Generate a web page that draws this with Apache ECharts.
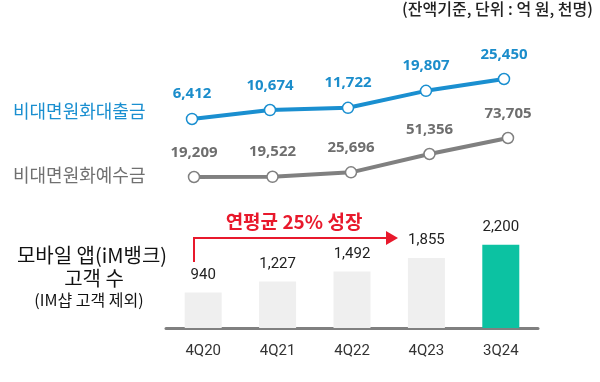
<!DOCTYPE html>
<html><head><meta charset="utf-8">
<script src="https://cdn.jsdelivr.net/npm/echarts@6/dist/echarts.min.js"></script>
<style>html,body{margin:0;padding:0;background:#fff}#c{width:600px;height:382px}</style>
</head><body><div id="c"></div>
<script>
const categories = ['4Q20','4Q21','4Q22','4Q23','3Q24'];
const loans = [6412, 10674, 11722, 19807, 25450];
const deposits = [19209, 19522, 25696, 51356, 73705];
const appUsers = [940, 1227, 1492, 1855, 2200];

const KR = '"Noto Sans CJK KR", "Noto Sans", sans-serif';
const chart = echarts.init(document.getElementById('c'), null, {renderer:'canvas'});
chart.setOption({
  animation:false,
  backgroundColor:'#fff',
  grid:[
    {left:192, right:96, top:60, height:80},
    {left:194, right:92, top:120, height:80},
    {left:166, right:62, top:200, bottom:54}
  ],
  xAxis:[
    {gridIndex:0, type:'category', data:categories, boundaryGap:false, show:false},
    {gridIndex:1, type:'category', data:categories, boundaryGap:false, show:false},
    {gridIndex:2, type:'category', data:categories, boundaryGap:true,
     axisLine:{lineStyle:{color:'#808080', width:3}}, axisTick:{show:false},
     axisLabel:{color:'#333', fontSize:15, margin:16, fontFamily:'Roboto, sans-serif'}}
  ],
  yAxis:[
    {gridIndex:0, type:'value', min:-3600, max:34500, show:false, splitLine:{show:false}},
    {gridIndex:1, type:'value', min:-12930, max:98850, show:false, splitLine:{show:false}},
    {gridIndex:2, type:'value', min:0, max:3386, show:false, splitLine:{show:false}}
  ],
  series:[
    {type:'line', xAxisIndex:0, yAxisIndex:0, data:loans, symbol:'circle', symbolSize:11,
     lineStyle:{color:'#1a8fd0', width:4}, itemStyle:{color:'#fff', borderColor:'#1a8fd0', borderWidth:1.5},
     label:{show:true, position:'top', distance:11, color:'#1b8dcb', fontSize:15, fontWeight:'bold',
       fontFamily:'"Open Sans", sans-serif', formatter:p=>p.value.toLocaleString('en-US')}, z:5},
    {type:'line', xAxisIndex:1, yAxisIndex:1, data:deposits, symbol:'circle', symbolSize:11,
     lineStyle:{color:'#808080', width:4}, itemStyle:{color:'#fff', borderColor:'#808080', borderWidth:1.5},
     label:{show:true, position:'top', distance:11, color:'#6e6e6e', fontSize:15, fontWeight:'bold',
       fontFamily:'"Open Sans", sans-serif', formatter:p=>p.value.toLocaleString('en-US')}, z:5},
    {type:'bar', xAxisIndex:2, yAxisIndex:2, barWidth:37,
     data:appUsers.map((v,i)=>({value:v, itemStyle:{color: i===appUsers.length-1 ? '#0cc2a2' : '#efefef'}})),
     label:{show:true, position:'top', distance:10, color:'#222', fontSize:15,
       fontFamily:'Roboto, sans-serif', formatter:p=>p.value.toLocaleString('en-US')}}
  ],
  graphic:[
    {type:'text', right:7, top:1, style:{text:'(잔액기준, 단위 : 억 원, 천명)', font:'500 16px '+KR, fill:'#222'}},
    {type:'text', left:13, top:102, style:{text:'비대면원화대출금', font:'18px '+KR, fill:'#1a8fd0'}},
    {type:'text', left:13, top:166, style:{text:'비대면원화예수금', font:'18px '+KR, fill:'#707070'}},
    {type:'text', x:92, y:255, style:{text:'모바일 앱(iM뱅크)', font:'20px '+KR, fill:'#111', align:'center', verticalAlign:'middle'}},
    {type:'text', x:94, y:278, style:{text:'고객 수', font:'20px '+KR, fill:'#111', align:'center', verticalAlign:'middle'}},
    {type:'text', x:89, y:300, style:{text:'(IM샵 고객 제외)', font:'16px '+KR, fill:'#111', align:'center', verticalAlign:'middle'}},
    {type:'polyline', shape:{points:[[194,262],[194,238],[388,238]]}, style:{stroke:'#e8192c', lineWidth:2, fill:null}},
    {type:'polygon', shape:{points:[[386,231],[398,238],[386,245]]}, style:{fill:'#e8192c'}},
    {type:'text', x:294, y:222, style:{text:'연평균 25% 성장', font:'bold 19px '+KR, fill:'#e8192c', align:'center', verticalAlign:'middle'}}
  ]
});
</script></body></html>
